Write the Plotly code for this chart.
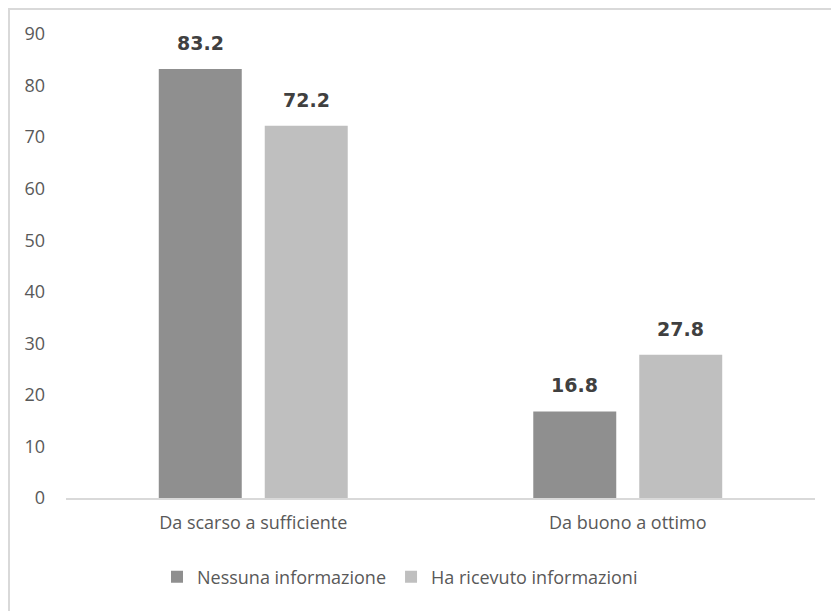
import plotly.graph_objects as go

categories = ["Da scarso a sufficiente", "Da buono a ottimo"]
series_names = ["Nessuna informazione", "Ha ricevuto informazioni"]
nessuna = [83.2, 16.8]
ricevuto = [72.2, 27.8]
colors = ["#8f8f8f", "#bfbfbf"]

W, H = 831, 611
ML, MR, MT, MB = 66, 16, 34, 113
FONT = "Open Sans"
LABEL_FONT = "DejaVu Sans"

fig = go.Figure()
for name, vals, col in zip(series_names, [nessuna, ricevuto], colors):
    fig.add_trace(go.Bar(
        x=categories, y=vals, name=name,
        marker=dict(color=col, line=dict(width=0)),
    ))

pw = W - ML - MR
ph = H - MT - MB


def px_to_paper_x(px):
    return (px - ML) / pw


def px_to_paper_y(py):
    return (H - MB - py) / ph


# value labels above each bar (bars sit ~53 px either side of the category centre)
annotations = []
for shift, vals in zip([-53, 53], [nessuna, ricevuto]):
    for cat, v in zip(categories, vals):
        annotations.append(dict(
            x=cat, y=v, xref="x", yref="y", text=f"<b>{v:.1f}</b>",
            showarrow=False, xshift=shift, yshift=26, yanchor="middle",
            font=dict(family=LABEL_FONT, size=19, color="#404040"),
        ))

fig.update_layout(
    width=W, height=H,
    margin=dict(l=ML, r=MR, t=MT, b=MB),
    paper_bgcolor="white", plot_bgcolor="white",
    barmode="group", bargap=0.434, bargroupgap=0.217,
    font=dict(family=FONT, color="#595959", size=18),
    showlegend=True,
    legend=dict(
        orientation="h", x=px_to_paper_x(400), xanchor="center",
        y=px_to_paper_y(577), yanchor="middle",
        font=dict(family=FONT, size=18, color="#595959"),
        itemwidth=30, traceorder="normal",
    ),
    xaxis=dict(
        showgrid=False, showline=True, linecolor="#d9d9d9", linewidth=1.5,
        ticks="", tickfont=dict(family=FONT, size=18, color="#595959"),
        ticklabelstandoff=8,
    ),
    yaxis=dict(
        range=[0, 90], dtick=10, showgrid=False, showline=False,
        zeroline=False, ticks="", tickfont=dict(family=FONT, size=18, color="#595959"),
        ticklabelstandoff=20,
    ),
    annotations=annotations,
    shapes=[dict(
        type="rect", xref="paper", yref="paper",
        x0=px_to_paper_x(9), x1=px_to_paper_x(860),
        y0=px_to_paper_y(640), y1=px_to_paper_y(9),
        line=dict(color="#d9d9d9", width=2), fillcolor="rgba(0,0,0,0)",
        layer="below",
    )],
)

fig.write_html("out.html")
